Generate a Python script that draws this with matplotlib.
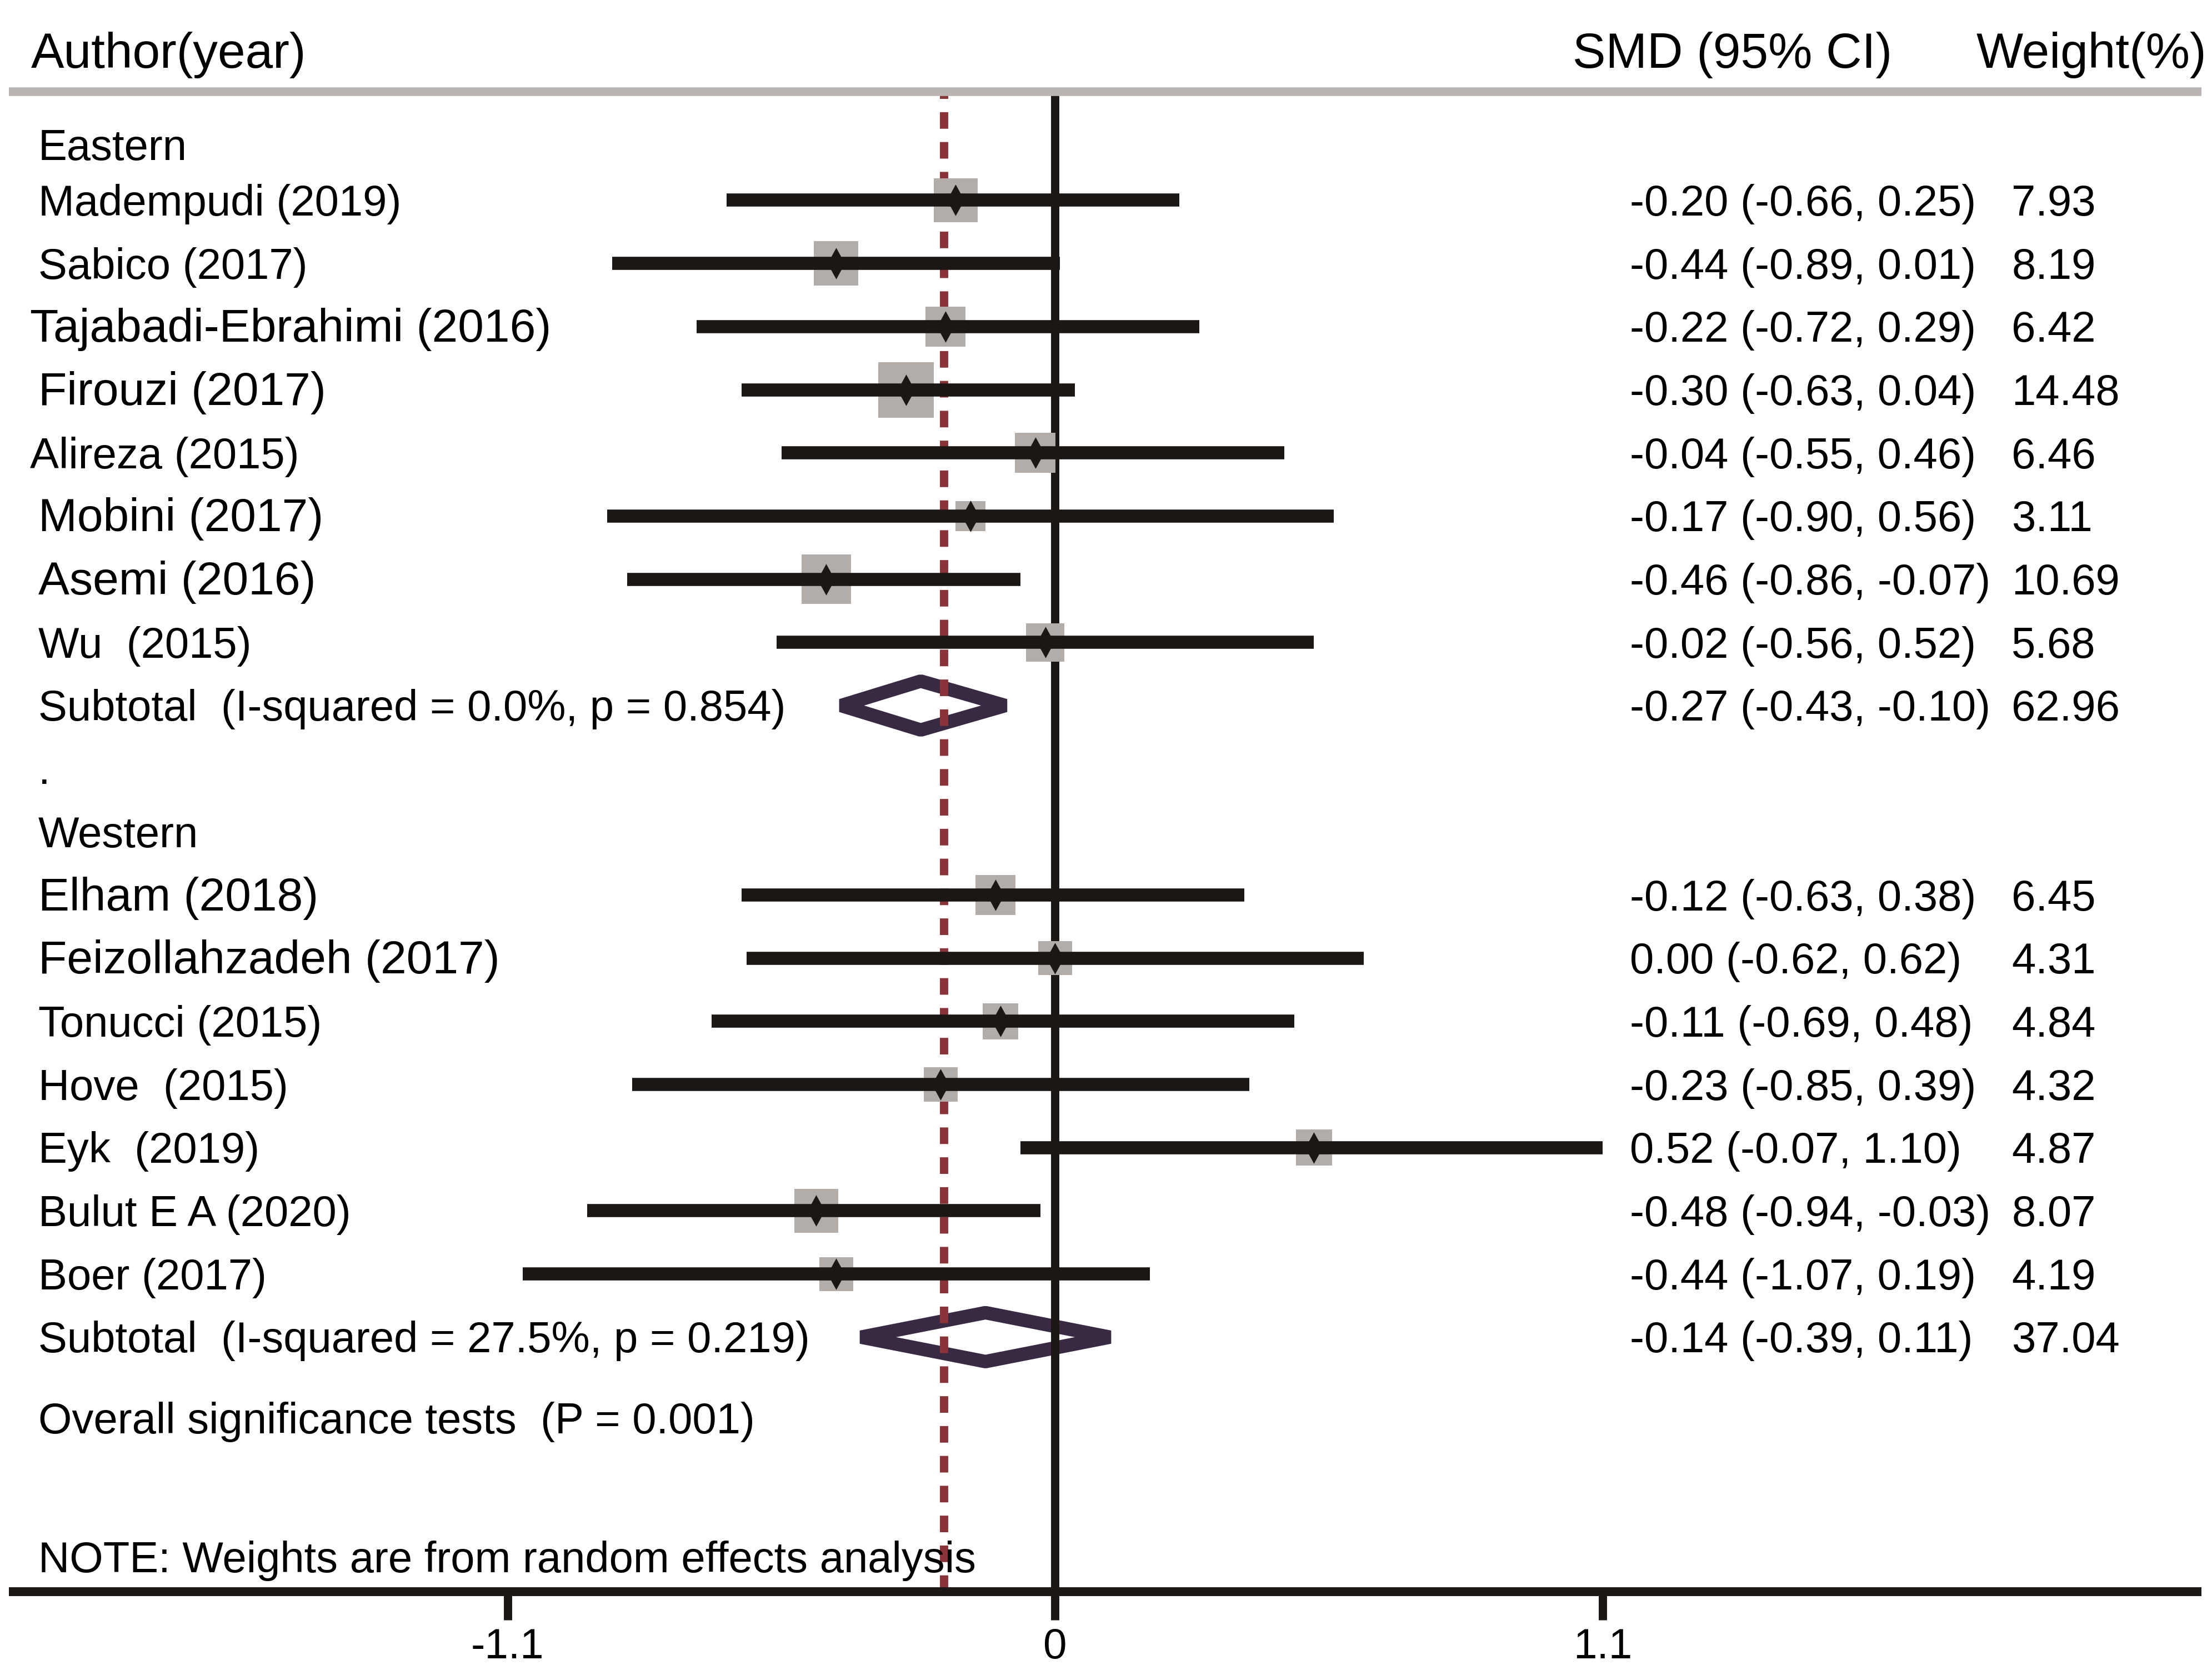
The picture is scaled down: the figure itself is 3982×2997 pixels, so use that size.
import numpy as np
import matplotlib.pyplot as plt
from matplotlib.patches import Polygon

plt.rcParams["font.family"] = ["Liberation Sans", "DejaVu Sans"]

# eastern studies
eastern_names = ["Madempudi (2019)", "Sabico (2017)", "Tajabadi-Ebrahimi (2016)",
                 "Firouzi (2017)", "Alireza (2015)", "Mobini (2017)",
                 "Asemi (2016)", "Wu  (2015)"]
eastern_smd = [-0.20, -0.44, -0.22, -0.30, -0.04, -0.17, -0.46, -0.02]
eastern_lo = [-0.66, -0.89, -0.72, -0.63, -0.55, -0.90, -0.86, -0.56]
eastern_hi = [0.25, 0.01, 0.29, 0.04, 0.46, 0.56, -0.07, 0.52]
eastern_w = [7.93, 8.19, 6.42, 14.48, 6.46, 3.11, 10.69, 5.68]

# western studies
western_names = ["Elham (2018)", "Feizollahzadeh (2017)", "Tonucci (2015)",
                 "Hove  (2015)", "Eyk  (2019)", "Bulut E A (2020)", "Boer (2017)"]
western_smd = [-0.12, 0.00, -0.11, -0.23, 0.52, -0.48, -0.44]
western_lo = [-0.63, -0.62, -0.69, -0.85, -0.07, -0.94, -1.07]
western_hi = [0.38, 0.62, 0.48, 0.39, 1.10, -0.03, 0.19]
western_w = [6.45, 4.31, 4.84, 4.32, 4.87, 8.07, 4.19]

# subgroup pooled
group_names = ["Eastern", "Western"]
subtotal_labels = ["Subtotal  (I-squared = 0.0%, p = 0.854)",
                   "Subtotal  (I-squared = 27.5%, p = 0.219)"]
subtotal_smd = [-0.27, -0.14]
subtotal_lo = [-0.43, -0.39]
subtotal_hi = [-0.10, 0.11]
subtotal_w = [62.96, 37.04]

overall_smd = -0.224
overall_text = "Overall significance tests  (P = 0.001)"
note_text = "NOTE: Weights are from random effects analysis"
xticks = [-1.1, 0, 1.1]
xtick_labels = ["-1.1", "0", "1.1"]

# colours
BLACK = "#1a1714"
GREY_BOX = "#b3adaa"
GREY_LINE = "#bab5b3"
RED = "#8a3338"
NAVY = "#382a42"

W, H, DPI = 3982, 2997, 250
fig = plt.figure(figsize=(W / DPI, H / DPI), dpi=DPI)
ax = fig.add_axes([16 / W, 1 - 2865 / H, (3963 - 16) / W, (2865 - 164.5) / H])
ax.set_xlim(-2.102, 2.303)
ax.set_ylim(23.03, -0.724)

for s in ["left", "right"]:
    ax.spines[s].set_visible(False)
ax.spines["top"].set_color(GREY_LINE)
ax.spines["top"].set_linewidth(4.5)
ax.spines["bottom"].set_color(BLACK)
ax.spines["bottom"].set_linewidth(4.6)
for s in ["top", "bottom"]:
    ax.spines[s].set_capstyle("butt")
    ax.spines[s].set_zorder(6)

ax.set_yticks([])
ax.set_xticks(xticks)
ax.set_xticklabels(xtick_labels)
ax.tick_params(axis="x", direction="out", length=14.7, width=4.3, pad=4,
               labelsize=22, color=BLACK)

# reference lines
ax.axvline(0, color=BLACK, lw=4.3, zorder=2)
ax.axvline(overall_smd, color=RED, lw=4.3, zorder=2, dashes=(2.0, 1.6))

fs = 22.45
col_lab = -2.043
col_smd = 1.155
col_w = 1.9215
base = 0.242  # baseline offset in rows

# row layout
east_rows = np.arange(1, 9)
west_rows = np.arange(12, 19)
sub_rows = [9, 19]
group_rows = [0.12, 11]

all_names = eastern_names + western_names
all_smd = np.array(eastern_smd + western_smd)
all_lo = np.array(eastern_lo + western_lo)
all_hi = np.array(eastern_hi + western_hi)
all_w = np.array(eastern_w + western_w)
all_rows = np.concatenate([east_rows, west_rows])

# some labels are set a little larger / shifted in the original
big_labels = {"Tajabadi-Ebrahimi (2016)", "Firouzi (2017)", "Mobini (2017)",
              "Asemi (2016)", "Elham (2018)", "Feizollahzadeh (2017)"}
left_shift = {"Tajabadi-Ebrahimi (2016)", "Alireza (2015)"}

# weight boxes
side_pt = 34.3 * all_w ** 0.4 * 72 / DPI
ax.scatter(all_smd, all_rows, marker="s", s=side_pt ** 2, color=GREY_BOX,
           linewidths=0, zorder=3)

# confidence intervals
ax.hlines(all_rows, all_lo, all_hi, color=BLACK, lw=6.8, zorder=4,
          capstyle="butt")

# point estimates
thin_diamond = [(0, 1), (0.55, 0), (0, -1), (-0.55, 0)]
ax.plot(all_smd, all_rows, ls="none", marker=thin_diamond, markersize=16.3,
        color=BLACK, markeredgewidth=0, zorder=5)

# pooled diamonds
for r, m, lo, hi in zip(sub_rows, subtotal_smd, subtotal_lo, subtotal_hi):
    d = Polygon([(lo, r), (m, r - 0.387), (hi, r), (m, r + 0.387)], closed=True,
                fill=False, edgecolor=NAVY, lw=7, joinstyle="bevel", zorder=1)
    ax.add_patch(d)

# text columns
for name, r, m, lo, hi, w in zip(all_names, all_rows, all_smd, all_lo, all_hi, all_w):
    lab_fs = 24.2 if name in big_labels else fs
    x = col_lab - 0.017 if name in left_shift else col_lab
    ax.text(x, r + base, name, fontsize=lab_fs, va="baseline", color="black")
    ax.text(col_smd, r + base, f"{m:.2f} ({lo:.2f}, {hi:.2f})", fontsize=fs,
            va="baseline", color="black")
    ax.text(col_w, r + base, f"{w:.2f}", fontsize=fs, va="baseline", color="black")

for name, r in zip(group_names, group_rows):
    ax.text(col_lab, r + base, name, fontsize=fs, va="baseline")

for lab, r, m, lo, hi, w in zip(subtotal_labels, sub_rows, subtotal_smd,
                                subtotal_lo, subtotal_hi, subtotal_w):
    ax.text(col_lab, r + base, lab, fontsize=fs, va="baseline")
    ax.text(col_smd, r + base, f"{m:.2f} ({lo:.2f}, {hi:.2f})", fontsize=fs,
            va="baseline")
    ax.text(col_w, r + base, f"{w:.2f}", fontsize=fs, va="baseline")

ax.text(col_lab, 10 + base, ".", fontsize=fs, va="baseline")
ax.text(col_lab, 20.28 + base, overall_text, fontsize=fs, va="baseline")
ax.text(col_lab, 22.48 + base, note_text, fontsize=fs, va="baseline", zorder=7)

# header
ax.text(-2.0577, -1.098, "Author(year)", fontsize=25.7, va="baseline")
ax.text(1.0396, -1.098, "SMD (95% CI)", fontsize=25.7, va="baseline")
ax.text(1.851, -1.098, "Weight(%)", fontsize=25.7, va="baseline")

fig.savefig("out.png", dpi=DPI)
